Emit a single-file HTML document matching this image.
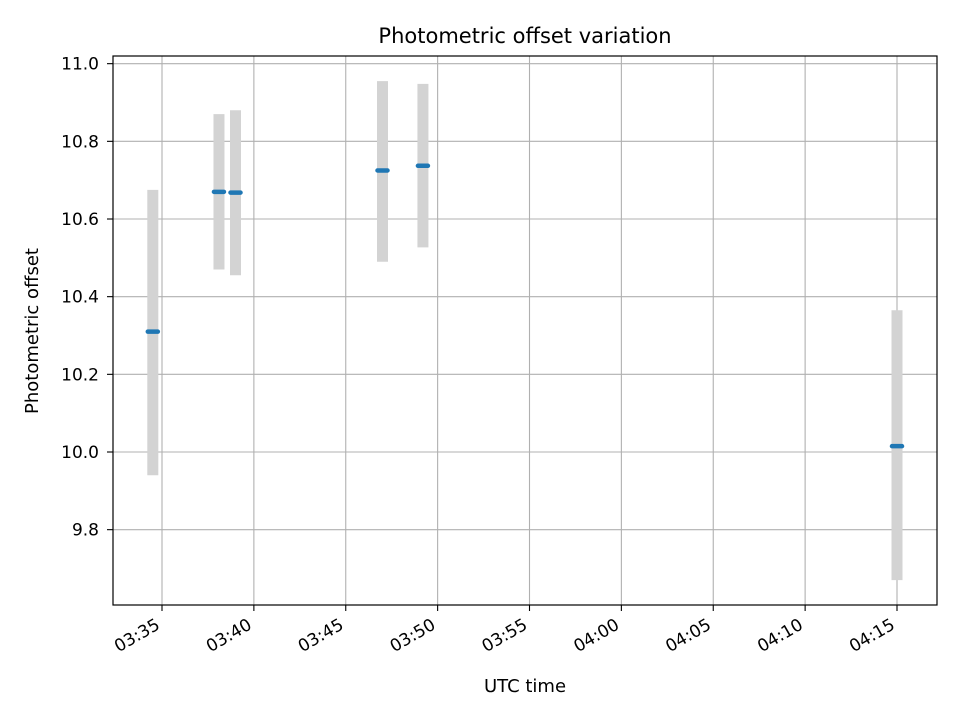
<!DOCTYPE html>
<html><head><meta charset="utf-8"><style>
body{margin:0;background:#fff}
svg text{font-family:"DejaVu Sans","Liberation Sans",sans-serif;fill:#000}
</style></head><body>
<svg id="chart" width="960" height="720" xmlns="http://www.w3.org/2000/svg">
<rect width="960" height="720" fill="#fff"/>
<text x="525" y="43" font-size="21" text-anchor="middle">Photometric offset variation</text>
<g id="grid"></g>
<g id="bars"></g>
<g id="marks"></g>
<rect x="113" y="56" width="824" height="549" fill="none" stroke="#000" stroke-width="1.2"/>
<g id="xticks"></g>
<g id="yticks"></g>
<text x="525" y="692" font-size="18" text-anchor="middle">UTC time</text>
<text transform="translate(38,331) rotate(-90)" font-size="18" text-anchor="middle">Photometric offset</text>
</svg>
<script>
const times=[34.5,38.1,39.0,47.0,49.2,75.0]; // minutes after 03:00
const values=[10.31,10.67,10.668,10.725,10.737,10.015];
const errLow=[9.94,10.47,10.455,10.49,10.527,9.67];
const errHigh=[10.675,10.87,10.88,10.955,10.948,10.365];
const xTickMins=[35,40,45,50,55,60,65,70,75];
const xTickLabels=["03:35","03:40","03:45","03:50","03:55","04:00","04:05","04:10","04:15"];
const yTicks=[9.8,10.0,10.2,10.4,10.6,10.8,11.0];
const yTickLabels=["9.8","10.0","10.2","10.4","10.6","10.8","11.0"];
const NS="http://www.w3.org/2000/svg";
const xs=m=>162+(m-35)*18.375;
const ys=v=>452-(v-10)*388.33;
function mk(tag,attrs,parent){const e=document.createElementNS(NS,tag);for(const k in attrs)e.setAttribute(k,attrs[k]);document.getElementById(parent).appendChild(e);return e;}
xTickMins.forEach((m,i)=>{
 const x=xs(m);
 const g=mk('line',{x1:x,x2:x,y1:56,y2:605,stroke:'#b0b0b0','stroke-width':1.1},'grid');
 
 
 const t=mk('line',{x1:x,x2:x,y1:605,y2:611,stroke:'#000','stroke-width':1.1},'xticks');
 
 
 const l=mk('text',{'font-size':17,'text-anchor':'end',transform:`translate(${x-1},${628}) rotate(-30)`},'xticks');
 l.textContent=xTickLabels[i];
 
 
});
yTicks.forEach((v,i)=>{
 const y=ys(v);
 const g=mk('line',{x1:113,x2:937,y1:y,y2:y,stroke:'#b0b0b0','stroke-width':1.1},'grid');
 
 
 const t=mk('line',{x1:107,x2:113,y1:y,y2:y,stroke:'#000','stroke-width':1.1},'yticks');
 
 
 const l=mk('text',{x:99,y:y+6,'font-size':17,'text-anchor':'end'},'yticks');
 l.textContent=yTickLabels[i];
 
 
});
times.forEach((m,i)=>{
 const x=xs(m);
 const b=mk('line',{x1:x,x2:x,y1:ys(errHigh[i]),y2:ys(errLow[i]),stroke:'#d3d3d3','stroke-width':11},'bars');
 
 
 const p=mk('line',{x1:x-5,x2:x+5,y1:ys(values[i]),y2:ys(values[i]),stroke:'#1f77b4','stroke-width':4.5,'stroke-linecap':'round'},'marks');
 
 
});
</script>
</body></html>
